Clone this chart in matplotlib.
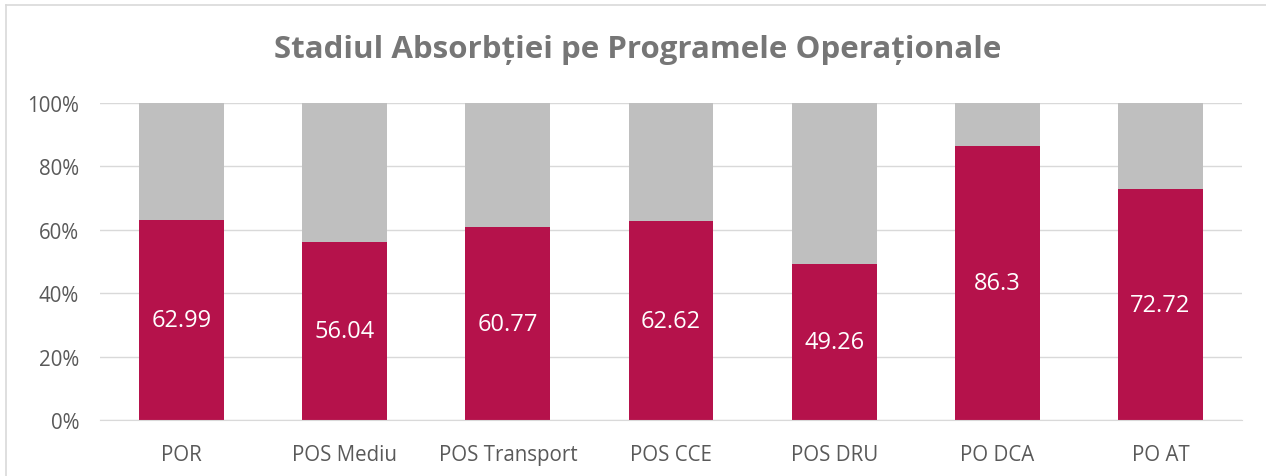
import matplotlib.pyplot as plt
from matplotlib.lines import Line2D
from matplotlib.ticker import FuncFormatter

categories = ["POR", "POS Mediu", "POS Transport", "POS CCE", "POS DRU", "PO DCA", "PO AT"]
absorbed = [62.99, 56.04, 60.77, 62.62, 49.26, 86.3, 72.72]
labels = ["62.99", "56.04", "60.77", "62.62", "49.26", "86.3", "72.72"]
remaining = [100 - v for v in absorbed]

plt.rcParams['font.family'] = ['Open Sans', 'DejaVu Sans']

W, H = 1266, 477
fig = plt.figure(figsize=(W / 100, H / 100), dpi=100)
ax = fig.add_axes([100 / W, 1 - 421 / H, 1142 / W, 317 / H])

x = list(range(len(categories)))
ax.bar(x, absorbed, width=0.52, color="#B5124B", zorder=3)
ax.bar(x, remaining, bottom=absorbed, width=0.52, color="#BFBFBF", zorder=3)

for xi, v, t in zip(x, absorbed, labels):
    ax.text(xi, v / 2, t, ha="center", va="center", color="white", fontsize=17, zorder=4)

ax.set_xlim(-0.5, len(categories) - 0.5)
ax.set_ylim(0, 100)
ax.set_yticks([0, 20, 40, 60, 80, 100])
ax.yaxis.set_major_formatter(FuncFormatter(lambda v, p: f"{int(v)}%"))
ax.set_xticks(x)
ax.set_xticklabels(categories)
ax.tick_params(axis="both", length=0, labelsize=14.8, colors="#595959")
ax.tick_params(axis="y", pad=15)
ax.tick_params(axis="x", pad=17)
ax.grid(axis="y", color="#D9D9D9", linewidth=1, zorder=0)
for s in ["top", "right", "left"]:
    ax.spines[s].set_visible(False)
ax.spines["bottom"].set_color("#D9D9D9")
ax.spines["bottom"].set_zorder(3)

fig.text(638 / W, 1 - 50 / H, "Stadiul Absorbției pe Programele Operaționale",
         ha="center", va="center", fontsize=22.5, fontweight="bold", color="#767676")

# chart area border (partially visible)
fig.add_artist(Line2D([6 / W, 1], [1 - 6 / H, 1 - 6 / H], color="#D9D9D9", linewidth=1.2, transform=fig.transFigure))
fig.add_artist(Line2D([6 / W, 6 / W], [0, 1 - 6 / H], color="#D9D9D9", linewidth=1.2, transform=fig.transFigure))

fig.savefig("out.png", dpi=100)
